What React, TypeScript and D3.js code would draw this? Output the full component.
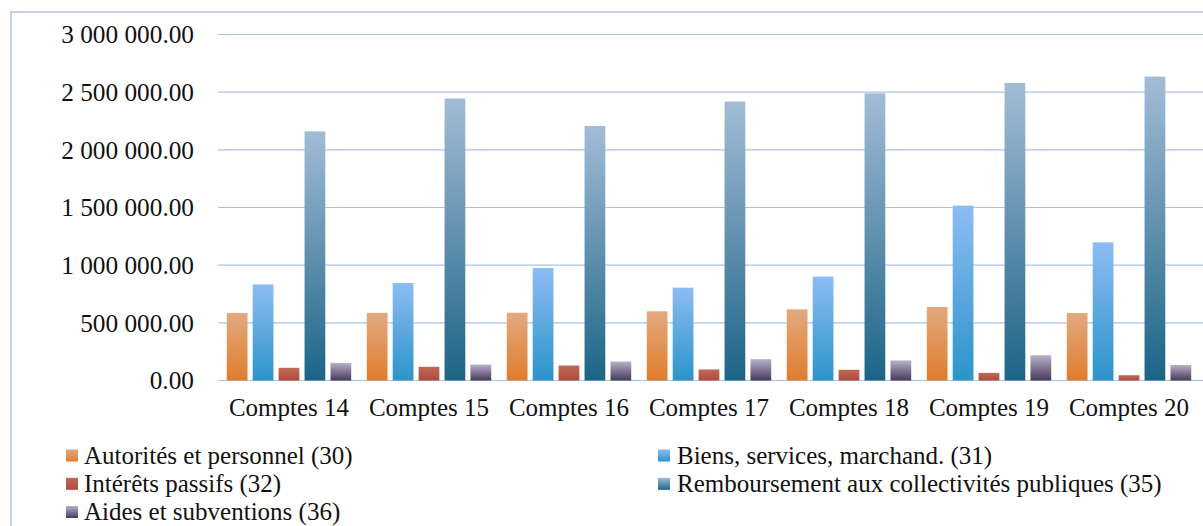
import React from "react";
import * as d3 from "d3";

const categories = ["Comptes 14", "Comptes 15", "Comptes 16", "Comptes 17", "Comptes 18", "Comptes 19", "Comptes 20"];
const seriesNames = [
  "Autorités et personnel (30)",
  "Biens, services, marchand. (31)",
  "Intérêts passifs (32)",
  "Remboursement aux collectivités publiques (35)",
  "Aides et subventions (36)",
];
const autorites30 = [586000, 586000, 588000, 600000, 617000, 638000, 585000];
const biens31 = [833000, 845000, 975000, 805000, 901000, 1516000, 1198000];
const interets32 = [110000, 119000, 130000, 96000, 93000, 66000, 46000];
const remboursement35 = [2160000, 2445000, 2207000, 2419000, 2490000, 2580000, 2635000];
const aides36 = [153000, 138000, 165000, 185000, 174000, 219000, 135000];
const yTicks = [0, 500000, 1000000, 1500000, 2000000, 2500000, 3000000];

const seriesValues = [autorites30, biens31, interets32, remboursement35, aides36];
const gradients = [
  ["#e2aa80", "#e07c2c"],
  ["#8dbcf4", "#2b94c9"],
  ["#c06a58", "#b04a3a"],
  ["#a3bcd6", "#1c6486"],
  ["#b9b0c8", "#453a5c"],
];

const W = 1203;
const H = 526;
const font = "'Liberation Serif', 'Times New Roman', serif";
const textColor = "#111";

const locale = d3.formatLocale({ decimal: ".", thousands: " ", grouping: [3], currency: ["", ""] });
const fmt = locale.format(",.2f");

export default function App() {
  const x0 = d3.scaleBand<string>().domain(categories).range([219, 1199]).paddingInner(0).paddingOuter(0);
  const x1 = d3
    .scaleBand<string>()
    .domain(seriesNames)
    .range([0, x0.bandwidth()])
    .paddingInner(0.2)
    .paddingOuter(0.3);
  const y = d3.scaleLinear().domain([0, 3000000]).range([380.5, 34.5]);

  const legendPos = [
    { sx: 66, tx: 84, yb: 463.5 },
    { sx: 658, tx: 677, yb: 463.5 },
    { sx: 66, tx: 84, yb: 491.8 },
    { sx: 658, tx: 677, yb: 491.8 },
    { sx: 66, tx: 84, yb: 520 },
  ];

  return (
    <svg width={W} height={H} style={{ position: "absolute", left: 0, top: 0, background: "#fff" }}>
      <defs>
        {gradients.map((g, i) => (
          <linearGradient key={i} id={`g${i}`} x1="0" y1="0" x2="0" y2="1">
            <stop offset="0%" stopColor={g[0]} />
            <stop offset="100%" stopColor={g[1]} />
          </linearGradient>
        ))}
      </defs>
      <rect x={11} y={12} width={W} height={H} fill="none" stroke="#aec4ea" strokeWidth={1.5} />
      {yTicks.map((t) => (
        <g key={t}>
          <line x1={218} x2={1203} y1={y(t)} y2={y(t)} stroke="#a9c2ea" strokeWidth={1.2} />
          <text
            x={194}
            y={y(t)}
            dy="0.35em"
            textAnchor="end"
            fontFamily={font}
            fontSize={25.3}
            fill={textColor}
          >
            {fmt(t)}
          </text>
        </g>
      ))}
      {categories.map((c, ci) => (
        <g key={c} transform={`translate(${x0(c)},0)`}>
          {seriesNames.map((s, si) => {
            const v = seriesValues[si][ci];
            return (
              <rect
                key={s}
                x={x1(s)}
                y={y(v)}
                width={x1.bandwidth()}
                height={y(0) - y(v)}
                fill={`url(#g${si})`}
              />
            );
          })}
          <text
            x={x0.bandwidth() / 2}
            y={416}
            textAnchor="middle"
            fontFamily={font}
            fontSize={25}
            fill={textColor}
          >
            {c}
          </text>
        </g>
      ))}
      {seriesNames.map((s, i) => (
        <g key={s}>
          <rect x={legendPos[i].sx} y={legendPos[i].yb - 14} width={12} height={12} fill={`url(#g${i})`} />
          <text x={legendPos[i].tx} y={legendPos[i].yb} fontFamily={font} fontSize={25} fill={textColor}>
            {s}
          </text>
        </g>
      ))}
    </svg>
  );
}
